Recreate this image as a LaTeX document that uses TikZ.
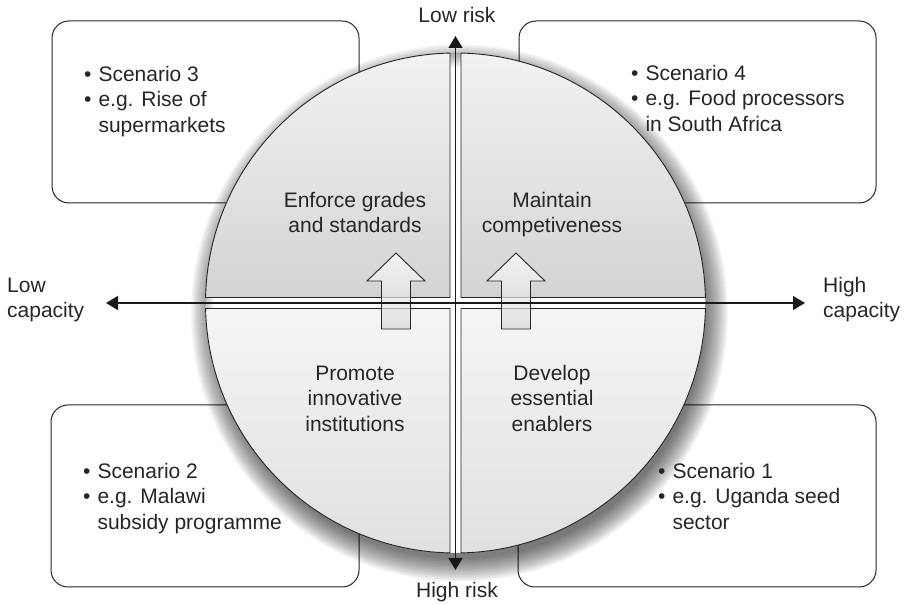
\documentclass[tikz,border=0pt]{standalone}
\usepackage{fontspec}
\setmainfont{Liberation Sans}
\usetikzlibrary{calc,arrows.meta}

\tikzset{
  txt/.style={font=\fontsize{21}{25.5}\selectfont, inner sep=0pt, text=black!85},
  scenbox/.style={draw=black!85, line width=1pt, rounded corners=17pt, fill=white},
  quad/.style={draw=black!85, line width=0.9pt},
  axis/.style={draw=black!90, line width=1.3pt,
    {Triangle[length=12pt,width=14pt]}-{Triangle[length=12pt,width=14pt]}},
  uparrow/.style={draw=black!85, line width=0.9pt, top color=white,
    bottom color=gray!30, fill opacity=0.7}
}

\newcommand{\scen}[3]{\begin{tabular}{@{}l@{\hspace{7pt}}l@{}}\textbullet & #1\\ \textbullet & #2\\ & #3\end{tabular}}
\newcommand{\stack}[1]{\begin{tabular}{@{}c@{}}#1\end{tabular}}

\begin{document}
\begin{tikzpicture}[x=1pt,y=1pt]
\useasboundingbox (0,0) rectangle (913,605);
\coordinate (C) at (455.5,302);
\def\r{250}
\def\g{5.5}
\pgfmathsetmacro\a{asin(\g/\r)}

% scenario boxes
\draw[scenbox] (52,402) rectangle (359,584);
\draw[scenbox] (519,402) rectangle (876,584);
\draw[scenbox] (51,18) rectangle (359,200);
\draw[scenbox] (518,18) rectangle (876,200);

% soft shadow under the disc
\foreach \i in {0,...,15}
  \fill[black,opacity=0.045,even odd rule] ($(C)+(4,-10)$) circle ({246+1.5*\i}) (C) circle (\r);

% the four quadrants
\shadedraw[quad, top color=gray!10, bottom color=gray!34]
  ($(C)+(-\g,\g)$) -- ($(C)+({90+\a}:\r)$) arc[start angle=90+\a, end angle=180-\a, radius=\r] -- cycle;
\shadedraw[quad, top color=gray!10, bottom color=gray!34]
  ($(C)+(\g,\g)$) -- ($(C)+({\a}:\r)$) arc[start angle=\a, end angle=90-\a, radius=\r] -- cycle;
\shadedraw[quad, top color=gray!8, bottom color=gray!24]
  ($(C)+(\g,-\g)$) -- ($(C)+({-90+\a}:\r)$) arc[start angle=-90+\a, end angle=-\a, radius=\r] -- cycle;
\shadedraw[quad, top color=gray!8, bottom color=gray!24]
  ($(C)+(-\g,-\g)$) -- ($(C)+({180+\a}:\r)$) arc[start angle=180+\a, end angle=270-\a, radius=\r] -- cycle;

% block arrows
\foreach \ax in {396,516}
  \shadedraw[uparrow] (\ax,352) -- (\ax+29,324) -- (\ax+14.5,324) -- (\ax+14.5,276)
    -- (\ax-14.5,276) -- (\ax-14.5,324) -- (\ax-29,324) -- cycle;

% axes
\coordinate (capL) at (106,302);
\coordinate (capH) at (805,302);
\coordinate (riskL) at (455.5,569);
\coordinate (riskH) at (455.5,35);
\draw[axis] (capL) -- (capH);
\draw[axis] (riskH) -- (riskL);

% axis labels
\node[txt, anchor=base] (lowrisk) at (457,582) {Low risk};
\node[txt, anchor=base] (highrisk) at (457,7) {High risk};
\node[txt, anchor=north west] (lowcap) at (7,331) {\begin{tabular}{@{}l@{}}Low\\capacity\end{tabular}};
\node[txt, anchor=north west] (highcap) at (823,331) {\begin{tabular}{@{}l@{}}High\\capacity\end{tabular}};

% quadrant labels
\node[txt, anchor=north] (enforce) at (355,416) {\stack{Enforce grades\\and standards}};
\node[txt, anchor=north] (maintain) at (552,416) {\stack{Maintain\\competiveness}};
\node[txt, anchor=north] (promote) at (355,243) {\stack{Promote\\innovative\\institutions}};
\node[txt, anchor=north] (develop) at (552,243) {\stack{Develop\\essential\\enablers}};

% scenarios
\node[txt, anchor=north west] (sc3) at (84,542) {\scen{Scenario 3}{e.g. Rise of}{supermarkets}};
\node[txt, anchor=north west] (sc4) at (631,543) {\scen{Scenario 4}{e.g. Food processors}{in South Africa}};
\node[txt, anchor=north west] (sc2) at (83,145) {\scen{Scenario 2}{e.g. Malawi}{subsidy programme}};
\node[txt, anchor=north west] (sc1) at (658,145) {\scen{Scenario 1}{e.g. Uganda seed}{sector}};
\end{tikzpicture}
\end{document}
